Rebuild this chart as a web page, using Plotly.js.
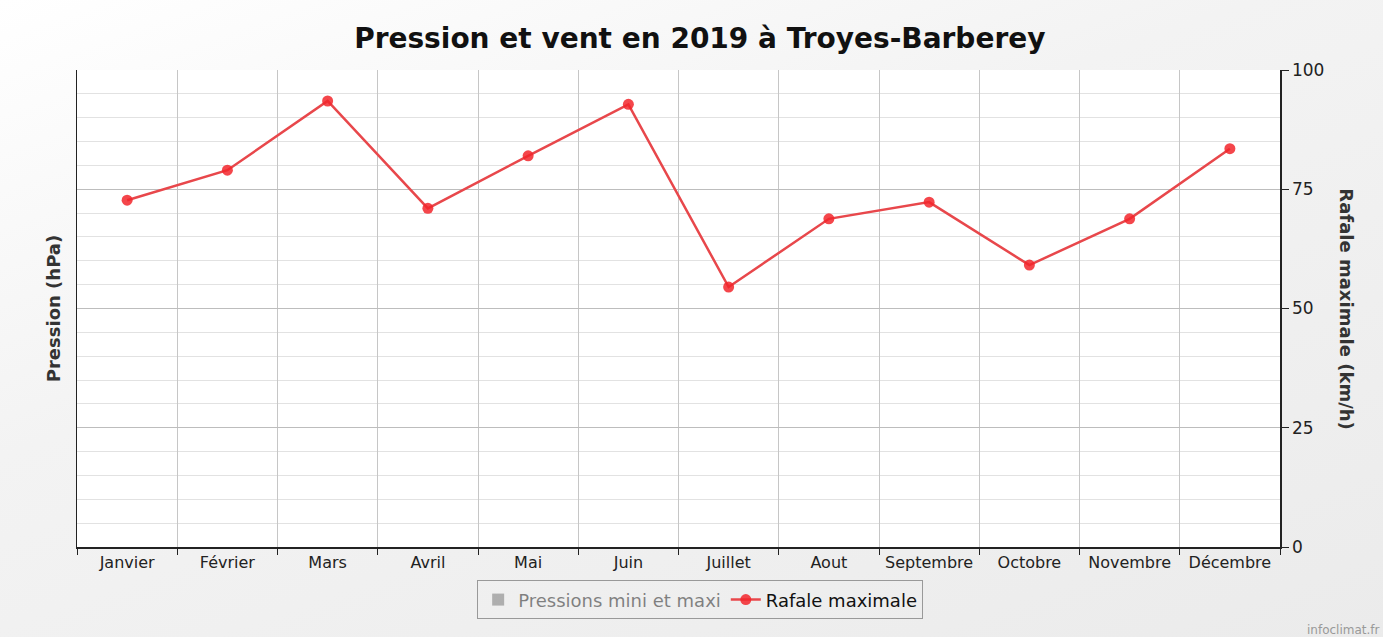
<!DOCTYPE html>
<html>
<head>
<meta charset="utf-8">
<script src="https://cdn.plot.ly/plotly-3.0.1.min.js"></script>
<style>
html,body{margin:0;padding:0;}
body{width:1383px;height:637px;background:linear-gradient(160deg,#ffffff 0%,#f3f3f3 40%,#ebebeb 100%);}
#chart{width:1383px;height:637px;}
</style>
</head>
<body>
<div id="chart"></div>
<script>
const months = ["Janvier","Février","Mars","Avril","Mai","Juin","Juillet","Aout","Septembre","Octobre","Novembre","Décembre"];
const rafaleMax = [72.7, 79.0, 93.5, 71.0, 82.0, 92.8, 54.5, 68.8, 72.3, 59.1, 68.8, 83.5];
const pressionMini = [null,null,null,null,null,null,null,null,null,null,null,null];
const rightTicks = [0, 25, 50, 75, 100];

const traces = [
  {
    type: 'bar', x: months, y: pressionMini, name: 'Pressions mini et maxi',
    marker: {color: '#6f6f6f'}, visible: 'legendonly', yaxis: 'y'
  },
  {
    type: 'scatter', mode: 'lines+markers', x: months, y: rafaleMax, name: 'Rafale maximale',
    line: {color: '#e8474b', width: 2.5},
    marker: {color: '#f2262c', size: 11, opacity: 0.85},
    yaxis: 'y2'
  }
];

const layout = {
  width: 1383, height: 637,
  paper_bgcolor: 'rgba(0,0,0,0)',
  plot_bgcolor: '#ffffff',
  margin: {l: 77, r: 103, t: 70, b: 90},
  font: {family: 'DejaVu Sans, Verdana, sans-serif', color: '#222'},
  title: {text: '<b>Pression et vent en 2019 à Troyes-Barberey</b>', font: {size: 28, color: '#111'}, x: 0.506, xanchor: 'center', y: 0.94, yanchor: 'middle'},
  showlegend: true,
  legend: {
    orientation: 'h', x: 0.518, xanchor: 'center', y: -0.07, yanchor: 'top',
    bgcolor: 'rgba(0,0,0,0)', bordercolor: '#999', borderwidth: 1,
    font: {size: 18, color: '#111'}, itemwidth: 30
  },
  xaxis: {
    type: 'category', tickson: 'boundaries', range: [-0.5, 11.5], tickangle: 0, showgrid: true, gridcolor: '#c6c6c6', gridwidth: 1,
    ticks: 'outside', ticklen: 6, tickcolor: '#222', showline: true, linecolor: '#222', linewidth: 1.5,
    tickfont: {size: 16, color: '#222'}, zeroline: false, fixedrange: true
  },
  yaxis: {
    range: [0, 100], showticklabels: false, ticks: '', showline: true, linecolor: '#222', linewidth: 1.5,
    tickvals: rightTicks, showgrid: true, gridcolor: '#bdbdbd', gridwidth: 1, zeroline: false,
    minor: {dtick: 5, showgrid: true, gridcolor: '#e2e2e2', gridwidth: 1},
    title: {text: '<b>Pression (hPa)</b>', font: {size: 18, color: '#333'}, standoff: 10}
  },
  yaxis2: {
    range: [0, 100], overlaying: 'y', side: 'right', tickvals: rightTicks,
    ticks: 'outside', ticklen: 7, tickcolor: '#222', showline: true, linecolor: '#222', linewidth: 1.5,
    showgrid: false, zeroline: false, tickfont: {size: 17, color: '#222'}
  },
  annotations: [
    {text: '<b>Rafale maximale (km/h)</b>', xref: 'paper', yref: 'paper', x: 1.055, y: 0.5, xanchor: 'center', yanchor: 'middle',
     textangle: 90, showarrow: false, font: {size: 18, color: '#333'}},
    {text: 'infoclimat.fr', xref: 'paper', yref: 'paper', x: 1.085, y: -0.175, xanchor: 'right', yanchor: 'middle',
     showarrow: false, font: {size: 12, color: '#999'}}
  ]
};

Plotly.newPlot('chart', traces, layout, {displayModeBar: false, staticPlot: true});
</script>
</body>
</html>
